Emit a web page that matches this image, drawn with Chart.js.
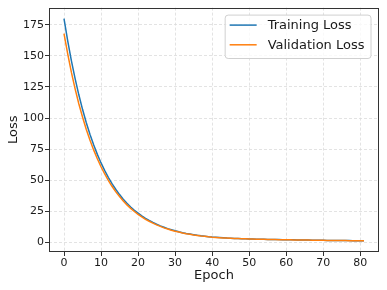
<!DOCTYPE html>
<html>
<head>
<meta charset="utf-8">
<script src="https://cdn.jsdelivr.net/npm/chart.js@4"></script>
<style>
  html, body { margin: 0; padding: 0; background: #fff; }
  #wrap { width: 387px; height: 290px; }
</style>
</head>
<body>
<div id="wrap"><canvas id="lossGraph" width="387" height="290"></canvas></div>
<script>
// values
const trainLoss = [
    180.0, 162.2, 146.1, 131.7, 118.7, 107.0, 96.4, 86.9, 78.4, 70.7,
    63.8, 57.6, 52.0, 46.9, 42.4, 38.3, 34.6, 31.3, 28.3, 25.7,
    23.4, 21.2, 19.2, 17.5, 15.9, 14.4, 13.1, 12.0, 10.9, 10.0,
    9.1, 8.3, 7.6, 7.0, 6.5, 6.0, 5.5, 5.1, 4.8, 4.4,
    4.1, 3.9, 3.7, 3.5, 3.3, 3.2, 3.0, 2.9, 2.8, 2.7,
    2.6, 2.5, 2.4, 2.35, 2.3, 2.2, 2.15, 2.1, 2.05, 2.0,
    1.95, 1.9, 1.85, 1.8, 1.75, 1.7, 1.65, 1.6, 1.55, 1.5,
    1.45, 1.4, 1.38, 1.35, 1.32, 1.3, 1.27, 1.24, 1.2, 1.17,
    1.14, 1.1
];
const valLoss = [
    168.0, 151.6, 136.7, 123.5, 111.5, 100.8, 91.0, 82.2, 74.3, 67.2,
    60.7, 54.9, 49.6, 44.8, 40.5, 36.7, 33.2, 30.0, 27.2, 24.7,
    22.4, 20.3, 18.4, 16.8, 15.3, 13.9, 12.7, 11.5, 10.6, 9.6,
    8.8, 8.1, 7.4, 6.8, 6.3, 5.8, 5.4, 5.0, 4.7, 4.3,
    4.0, 3.8, 3.6, 3.4, 3.25, 3.1, 2.95, 2.85, 2.75, 2.65,
    2.55, 2.45, 2.37, 2.3, 2.24, 2.17, 2.11, 2.06, 2.01, 1.96,
    1.91, 1.86, 1.81, 1.76, 1.72, 1.67, 1.62, 1.57, 1.52, 1.48,
    1.43, 1.39, 1.36, 1.33, 1.3, 1.27, 1.24, 1.21, 1.18, 1.15,
    1.12, 1.08
];
const epochs = trainLoss.map((_, i) => i);
const xTicks = [0, 10, 20, 30, 40, 50, 60, 70, 80];
const yTicks = [0, 25, 50, 75, 100, 125, 150, 175];
const seriesNames = ['Training Loss', 'Validation Loss'];

const FONT = "'DejaVu Sans', sans-serif";
const TEXT = '#1a1a1a';

// frame round the plot, like matplotlib spines
const framePlugin = {
    id: 'frame',
    afterDraw(chart) {
        const {ctx, chartArea: a} = chart;
        ctx.save();
        ctx.strokeStyle = '#333';
        ctx.lineWidth = 1;
        ctx.strokeRect(Math.round(a.left) + 0.5, Math.round(a.top) + 0.5,
            Math.round(a.right - a.left) - 1, Math.round(a.bottom - a.top) - 1);
        ctx.restore();
    }
};

// legend box inside the plot, upper right
const insideLegend = {
    id: 'insideLegend',
    afterDraw(chart) {
        const {ctx, chartArea: a} = chart;
        const sets = chart.data.datasets;
        ctx.save();
        ctx.font = '13px ' + FONT;
        let textW = 0;
        sets.forEach(ds => { textW = Math.max(textW, ctx.measureText(ds.label).width); });
        const lineLen = 27, gap = 11, padX = 5, rowH = 19.7;
        const w = padX + lineLen + gap + textW + 6;
        const h = rowH * sets.length + 4;
        const x = a.right - 8.5 - w;
        const y = a.top + 7;
        ctx.fillStyle = 'rgba(255,255,255,0.8)';
        ctx.strokeStyle = '#d0d0d0';
        ctx.lineWidth = 1;
        ctx.beginPath();
        ctx.roundRect(x + 0.5, y + 0.5, w, h, 3);
        ctx.fill();
        ctx.stroke();
        ctx.textBaseline = 'middle';
        sets.forEach((ds, i) => {
            const cy = y + 10.5 + i * rowH;
            ctx.strokeStyle = ds.borderColor;
            ctx.lineWidth = 1.5;
            ctx.beginPath();
            ctx.moveTo(x + padX, cy);
            ctx.lineTo(x + padX + lineLen, cy);
            ctx.stroke();
            ctx.fillStyle = TEXT;
            ctx.fillText(ds.label, x + padX + lineLen + gap, cy + 0.5);
        });
        ctx.restore();
    }
};

function createLossGraph() {
    const ctx = document.getElementById('lossGraph').getContext('2d');

    const data = {
        datasets: [
            {
                label: seriesNames[0],
                data: epochs.map((e, i) => ({x: e, y: trainLoss[i]})),
                borderColor: '#1f77b4',
                borderWidth: 1.5,
                pointRadius: 0,
                order: 1,
                fill: false
            },
            {
                label: seriesNames[1],
                data: epochs.map((e, i) => ({x: e, y: valLoss[i]})),
                borderColor: '#ff7f0e',
                borderWidth: 1.5,
                pointRadius: 0,
                order: 0, // orange on top, as in the plot
                fill: false
            }
        ]
    };

    const gridOpts = {
        color: '#dcdcdc',
        lineWidth: 0.8,
        tickLength: 4,
        tickColor: '#333',
        tickWidth: 1
    };

    const options = {
        responsive: false,
        animation: false,
        layout: { padding: { left: 0, right: 8, top: 7, bottom: 0 } },
        plugins: {
            legend: { display: false },
            tooltip: { enabled: false }
        },
        scales: {
            x: {
                type: 'linear',
                min: -4.05,
                max: 85.05,
                afterBuildTicks: s => { s.ticks = xTicks.map(v => ({value: v})); },
                afterFit: s => { s.height = 38; },
                grid: gridOpts,
                border: { display: false, dash: [3, 2] },
                ticks: { color: TEXT, font: { family: FONT, size: 11 }, padding: 1, maxRotation: 0 },
                title: { display: true, text: 'Epoch', color: TEXT, font: { family: FONT, size: 13 }, padding: { top: 0, bottom: 6.5 } }
            },
            y: {
                min: -7.95,
                max: 188.95,
                afterBuildTicks: s => { s.ticks = yTicks.map(v => ({value: v})); },
                afterFit: s => { s.width = 49; },
                grid: gridOpts,
                border: { display: false, dash: [3, 2] },
                ticks: { color: TEXT, font: { family: FONT, size: 11 }, padding: 1 },
                title: { display: true, text: 'Loss', color: TEXT, font: { family: FONT, size: 13 }, padding: { top: 5.5, bottom: 0 } }
            }
        }
    };

    new Chart(ctx, {
        type: 'line',
        data: data,
        options: options,
        plugins: [framePlugin, insideLegend]
    });
}

createLossGraph();
</script>
</body>
</html>
